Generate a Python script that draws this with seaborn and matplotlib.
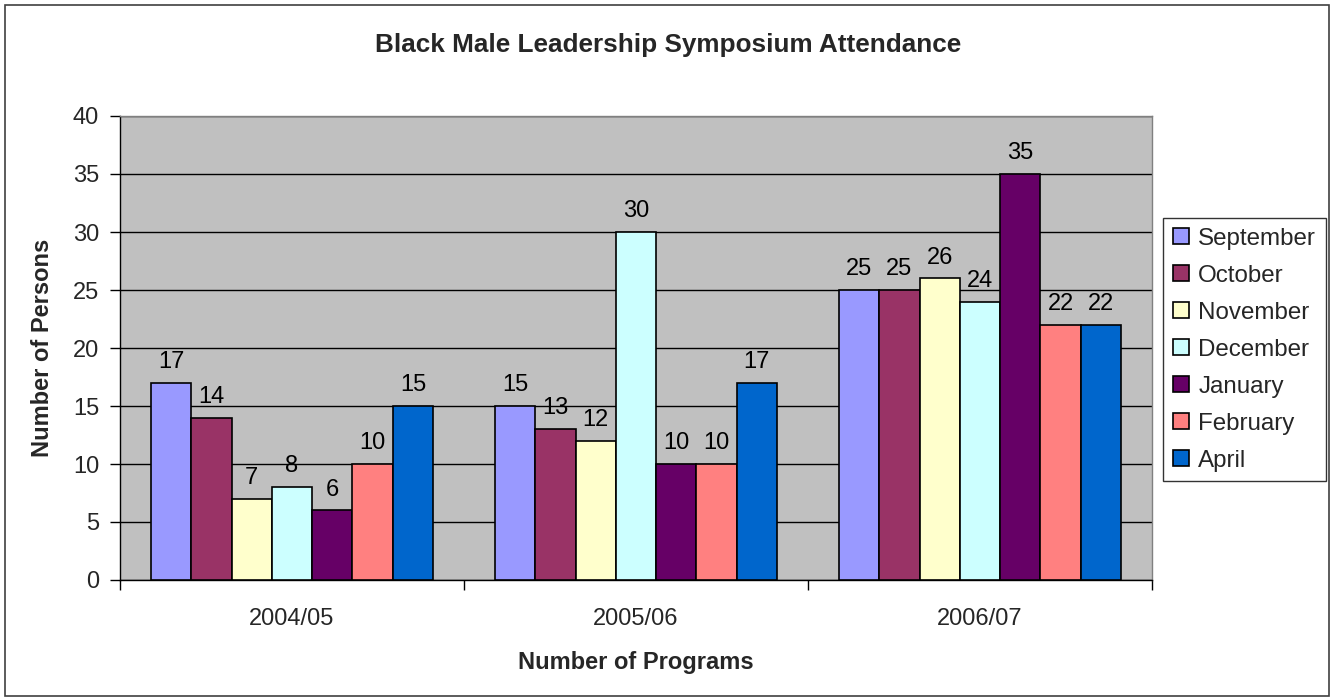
import matplotlib
matplotlib.use("Agg")
import matplotlib.pyplot as plt
from matplotlib.patches import Rectangle
import seaborn as sns
import pandas as pd

# Attendance per program year and month
years = ["2004/05", "2005/06", "2006/07"]
months = ["September", "October", "November", "December", "January", "February", "April"]
september = [17, 15, 25]
october = [14, 13, 25]
november = [7, 12, 26]
december = [8, 30, 24]
january = [6, 10, 35]
february = [10, 10, 22]
april = [15, 17, 22]

month_colors = ["#9999FF", "#993366", "#FFFFCC", "#CCFFFF", "#660066", "#FF8080", "#0066CC"]

series = [september, october, november, december, january, february, april]
rows = []
for m, vals in zip(months, series):
    for y, v in zip(years, vals):
        rows.append({"year": y, "month": m, "count": v})
df = pd.DataFrame(rows)

sns.set_style("white")
plt.rcParams["font.family"] = ["Liberation Sans", "DejaVu Sans"]

FS = 17
fig = plt.figure(figsize=(13.31, 7.0), dpi=100)
ax = fig.add_axes([120 / 1331, 1 - 580 / 700, (1152 - 120) / 1331, (580 - 116) / 700])
ax.set_facecolor("#C0C0C0")

sns.barplot(data=df, x="year", y="count", hue="month", order=years, hue_order=months,
            palette=month_colors, width=0.82, edgecolor="black", linewidth=1.2,
            saturation=1, ax=ax, zorder=3)

for cont in ax.containers:
    ax.bar_label(cont, padding=7, fontsize=FS, color="black")

ax.set_ylim(0, 40)
ax.set_xlim(-0.5, 2.5)
ax.set_yticks(range(0, 41, 5))
ax.grid(axis="y", color="black", linewidth=1.0, zorder=0)
ax.set_axisbelow(True)
ax.grid(axis="x", visible=False)

ax.tick_params(axis="y", direction="out", length=7, width=1, color="black",
               labelsize=FS, pad=8, left=True)
ax.set_xticks([0, 1, 2])
ax.set_xticklabels(years)
ax.tick_params(axis="x", which="major", length=0, labelsize=FS, pad=20)
ax.set_xticks([-0.5, 0.5, 1.5, 2.5], minor=True)
ax.tick_params(axis="x", which="minor", direction="out", length=7, width=1,
               color="black", bottom=True)

for side in ["left", "bottom"]:
    ax.spines[side].set_color("black")
    ax.spines[side].set_linewidth(1.0)
for side in ["top", "right"]:
    ax.spines[side].set_color("#808080")
    ax.spines[side].set_linewidth(1.0)
    ax.spines[side].set_visible(True)

ax.set_xlabel("")
ax.set_ylabel("")
fig.text(43 / 1331, 1 - 348 / 700, "Number of Persons", rotation=90, ha="center",
         va="center", fontsize=FS, fontweight="bold")
fig.text(636 / 1331, 1 - 662 / 700, "Number of Programs", ha="center", va="center",
         fontsize=FS, fontweight="bold")
fig.text(668 / 1331, 1 - 45 / 700, "Black Male Leadership Symposium Attendance",
         ha="center", va="center", fontsize=18.8, fontweight="bold")

handles, labels = ax.get_legend_handles_labels()
if ax.get_legend() is not None:
    ax.get_legend().remove()
leg = fig.legend(handles, labels, loc="upper left",
                 bbox_to_anchor=(1163 / 1331, 1 - 218 / 700),
                 fontsize=17.4, frameon=True, fancybox=False, borderpad=0.4,
                 handlelength=0.68, handleheight=0.68, handletextpad=0.38,
                 labelspacing=0.62, borderaxespad=0)
leg.get_frame().set_edgecolor("black")
leg.get_frame().set_linewidth(1.0)
leg.get_frame().set_facecolor("white")

fig.patches.append(Rectangle((5 / 1331, 4 / 700), 1324 / 1331, 691 / 700,
                             transform=fig.transFigure, fill=False,
                             edgecolor="#404040", linewidth=1.2))

fig.savefig("out.png", dpi=100)
